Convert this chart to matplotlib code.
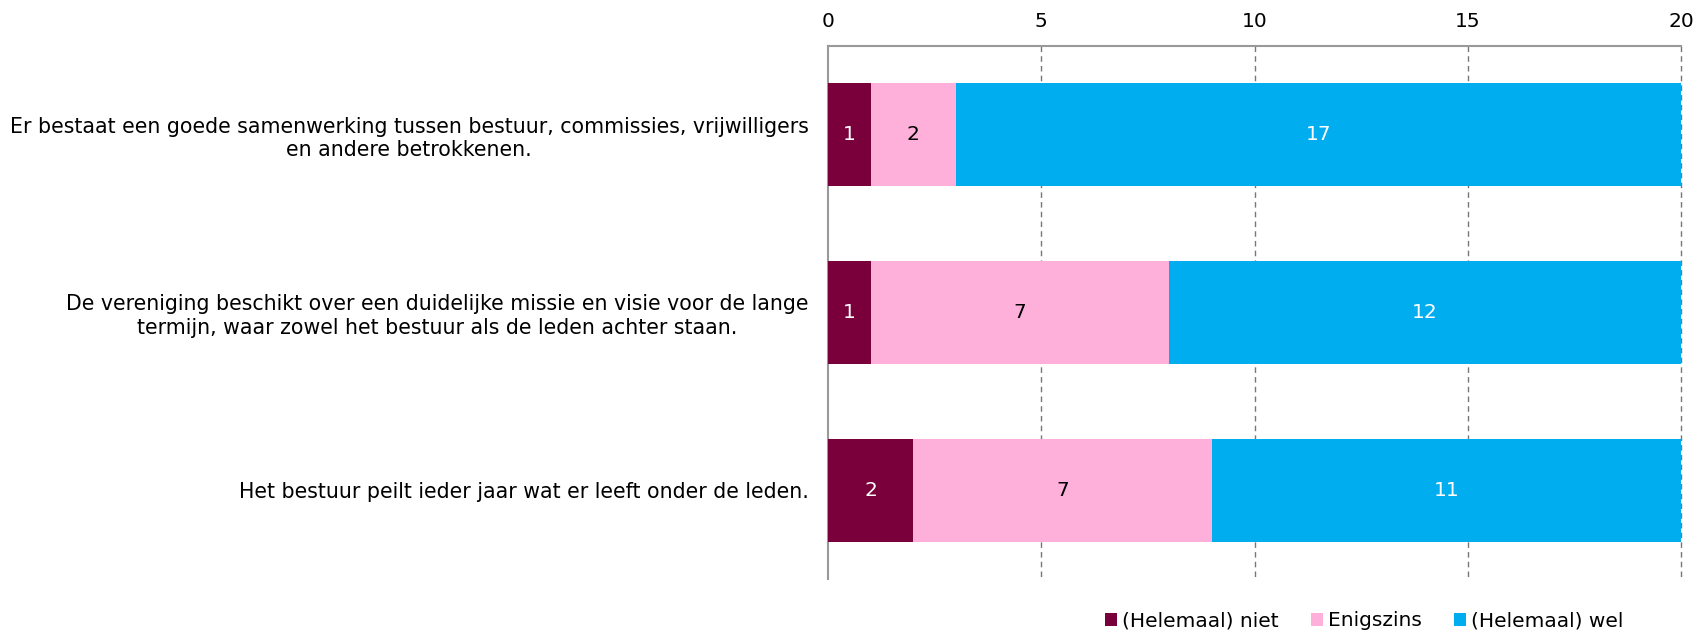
import numpy as np
import matplotlib.pyplot as plt

categories = [
    "Er bestaat een goede samenwerking tussen bestuur, commissies, vrijwilligers\nen andere betrokkenen.",
    "De vereniging beschikt over een duidelijke missie en visie voor de lange\ntermijn, waar zowel het bestuur als de leden achter staan.",
    "Het bestuur peilt ieder jaar wat er leeft onder de leden.",
]
series_names = ["(Helemaal) niet", "Enigszins", "(Helemaal) wel"]
niet = [1, 1, 2]
enigszins = [2, 7, 7]
wel = [17, 12, 11]
ticks = [0, 5, 10, 15, 20]

colors = ["#7a003c", "#ffb0da", "#00adef"]
text_colors = ["white", "black", "white"]

plt.rcParams['font.family'] = ['DejaVu Sans']
FS = 14.5

fig = plt.figure(figsize=(17.06, 6.33), dpi=100)
ax = fig.add_axes([828 / 1706, 1 - 579 / 633, (1681 - 828) / 1706, (579 - 46) / 633])

y = np.arange(len(categories))
left = np.zeros(len(categories))
for vals, name, c, tc in zip([niet, enigszins, wel], series_names, colors, text_colors):
    vals = np.array(vals, dtype=float)
    ax.barh(y, vals, left=left, height=0.58, color=c, label=name, zorder=3)
    for yi, l, v in zip(y, left, vals):
        ax.text(l + v / 2, yi, f"{int(v)}", ha="center", va="center",
                color=tc, fontsize=FS, zorder=4)
    left += vals

ax.set_xlim(0, 20)
ax.set_ylim(2.5, -0.5)
ax.set_xticks(ticks)
ax.xaxis.tick_top()
ax.tick_params(axis="x", length=0, pad=11, labelsize=FS)
ax.tick_params(axis="y", length=0, pad=14, labelsize=14.8)
ax.set_yticks(y)
ax.set_yticklabels(categories)
for lbl in ax.get_yticklabels():
    lbl.set_multialignment("center")

# dashed vertical gridlines (drawn unclipped so the one at 20 shows fully)
ax.vlines(ticks[1:], -0.5, 2.5, colors="#777777", linestyles=(0, (4, 3)),
          linewidth=1, zorder=1, clip_on=False)
for s in ["right", "bottom"]:
    ax.spines[s].set_visible(False)
for s in ["top", "left"]:
    ax.spines[s].set_color("#999999")
    ax.spines[s].set_linewidth(1.5)

h, l = ax.get_legend_handles_labels()
fig.legend(h, l, loc="center left", bbox_to_anchor=(1105 / 1706, 1 - 621 / 633), ncol=3,
           frameon=False, fontsize=FS, handlelength=0.6, handleheight=0.6,
           handletextpad=0.25, columnspacing=1.6, borderaxespad=0, borderpad=0)

fig.savefig("out.png", dpi=100)
